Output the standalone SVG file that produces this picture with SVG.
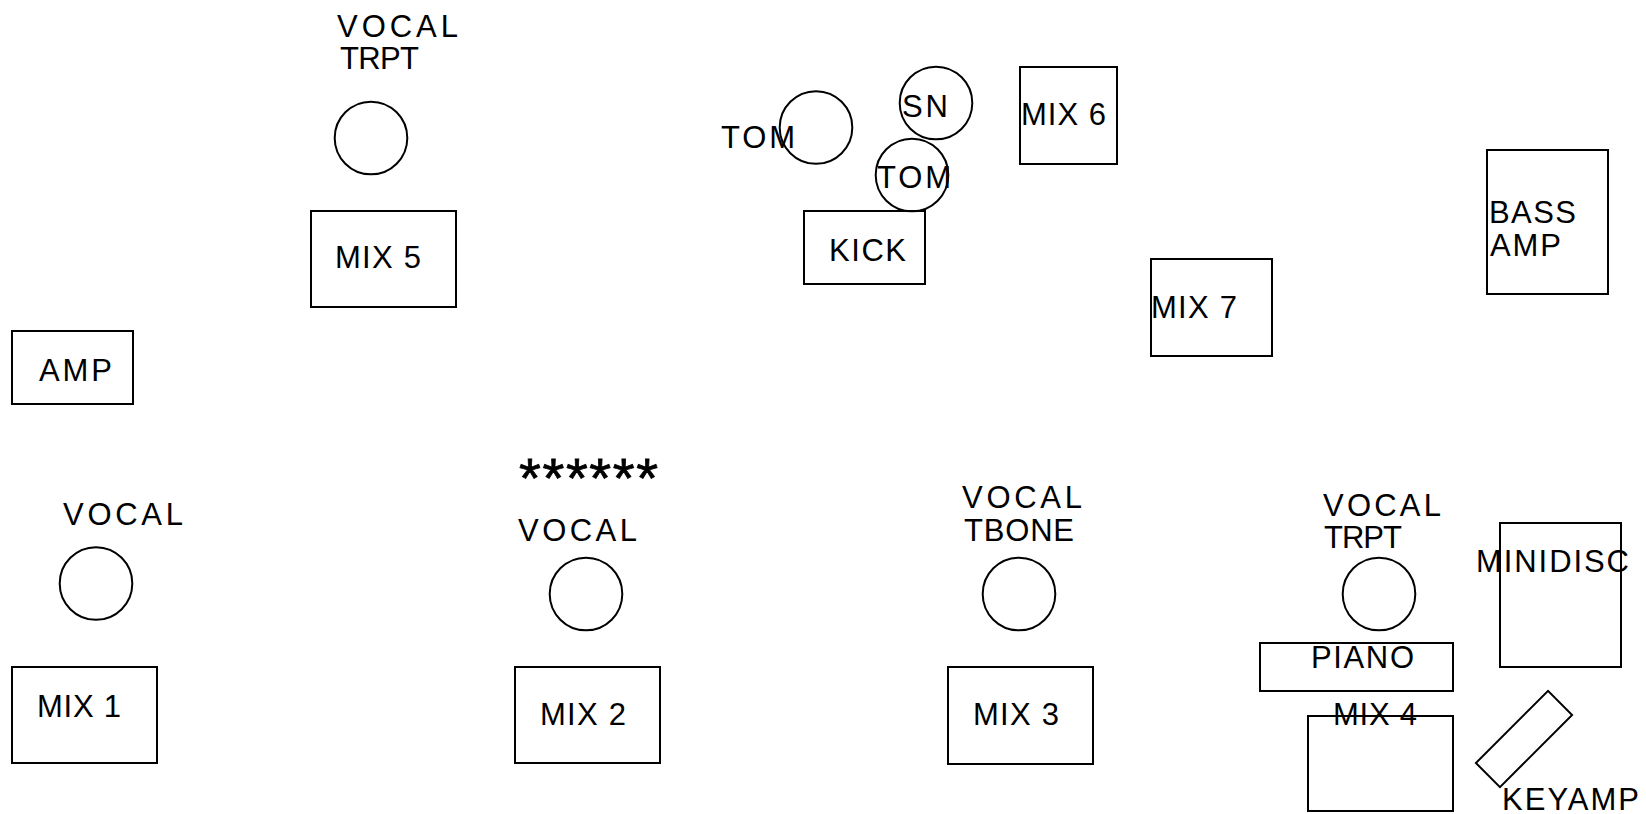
<svg xmlns="http://www.w3.org/2000/svg" width="1646" height="814" viewBox="0 0 1646 814">
<style>
.s{fill:none;stroke:#000;stroke-width:2}
text{font-family:"Liberation Sans",Arial,Helvetica,sans-serif;font-size:31px;fill:#000}
.ast{font-size:56px;stroke:#000;stroke-width:0.8}
</style>
<rect width="1646" height="814" fill="#fff"/>
<g id="connectors"/>
<g id="vocal-trpt-top">
<text x="337" y="37" textLength="121" lengthAdjust="spacing">VOCAL</text>
<text x="340" y="69" textLength="79" lengthAdjust="spacing">TRPT</text>
<circle class="s" cx="371" cy="138" r="36.3"/>
</g>
<g id="mix5"><rect class="s" x="311" y="211" width="145" height="96"/><text x="335" y="268" textLength="86" lengthAdjust="spacing">MIX 5</text></g>
<g id="amp"><rect class="s" x="12" y="331" width="121" height="73"/><text x="39" y="381" textLength="73" lengthAdjust="spacing">AMP</text></g>
<g id="vocal-1"><text x="63" y="525" textLength="120" lengthAdjust="spacing">VOCAL</text><circle class="s" cx="96" cy="583.5" r="36.3"/></g>
<g id="mix1"><rect class="s" x="12" y="667" width="145" height="96"/><text x="37" y="717" textLength="84" lengthAdjust="spacing">MIX 1</text></g>
<g id="stars"><text class="ast" x="519" y="497" textLength="139" lengthAdjust="spacing">******</text></g>
<g id="vocal-2"><text x="518" y="541" textLength="119" lengthAdjust="spacing">VOCAL</text><circle class="s" cx="586" cy="594" r="36.3"/></g>
<g id="mix2"><rect class="s" x="515" y="667" width="145" height="96"/><text x="540" y="725" textLength="86" lengthAdjust="spacing">MIX 2</text></g>
<g id="vocal-tbone"><text x="962" y="508" textLength="120" lengthAdjust="spacing">VOCAL</text><text x="964" y="541" textLength="110" lengthAdjust="spacing">TBONE</text><circle class="s" cx="1019" cy="594" r="36.3"/></g>
<g id="mix3"><rect class="s" x="948" y="667" width="145" height="97"/><text x="973" y="725" textLength="86" lengthAdjust="spacing">MIX 3</text></g>
<g id="vocal-trpt-right"><text x="1323" y="516" textLength="118" lengthAdjust="spacing">VOCAL</text><text x="1324" y="548" textLength="78" lengthAdjust="spacing">TRPT</text><circle class="s" cx="1379" cy="594" r="36.3"/></g>
<g id="piano"><rect class="s" x="1260" y="643" width="193" height="48"/><text x="1311" y="668" textLength="103" lengthAdjust="spacing">PIANO</text></g>
<g id="mix4"><rect class="s" x="1308" y="716" width="145" height="95"/><text x="1333" y="725" textLength="84" lengthAdjust="spacing">MIX 4</text></g>
<g id="minidisc"><rect class="s" x="1500" y="523" width="121" height="144"/><text x="1476" y="572" textLength="153" lengthAdjust="spacing">MINIDISC</text></g>
<g id="keyamp"><rect class="s" x="-51" y="-17" width="102" height="34" transform="translate(1524 739) rotate(-45)"/><text x="1502" y="810" textLength="137" lengthAdjust="spacing">KEYAMP</text></g>
<g id="mix7"><rect class="s" x="1151" y="259" width="121" height="97"/><text x="1151" y="318" textLength="86" lengthAdjust="spacing">MIX 7</text></g>
<g id="bass-amp"><rect class="s" x="1487" y="150" width="121" height="144"/><text x="1489" y="223" textLength="87" lengthAdjust="spacing">BASS</text><text x="1490" y="256" textLength="71" lengthAdjust="spacing">AMP</text></g>
<g id="mix6"><rect class="s" x="1020" y="67" width="97" height="97"/><text x="1021" y="125" textLength="85" lengthAdjust="spacing">MIX 6</text></g>
<g id="tom-left"><text x="721" y="148" textLength="74" lengthAdjust="spacing">TOM</text><circle class="s" cx="816" cy="127.5" r="36.3"/></g>
<g id="snare"><circle class="s" cx="936" cy="103" r="36.3"/><text x="902" y="117" textLength="46" lengthAdjust="spacing">SN</text></g>
<g id="tom-right"><circle class="s" cx="912" cy="175" r="36.3"/><text x="877" y="188" textLength="74" lengthAdjust="spacing">TOM</text></g>
<g id="kick"><rect class="s" x="804" y="211" width="121" height="73"/><text x="829" y="261" textLength="77" lengthAdjust="spacing">KICK</text></g>
</svg>
